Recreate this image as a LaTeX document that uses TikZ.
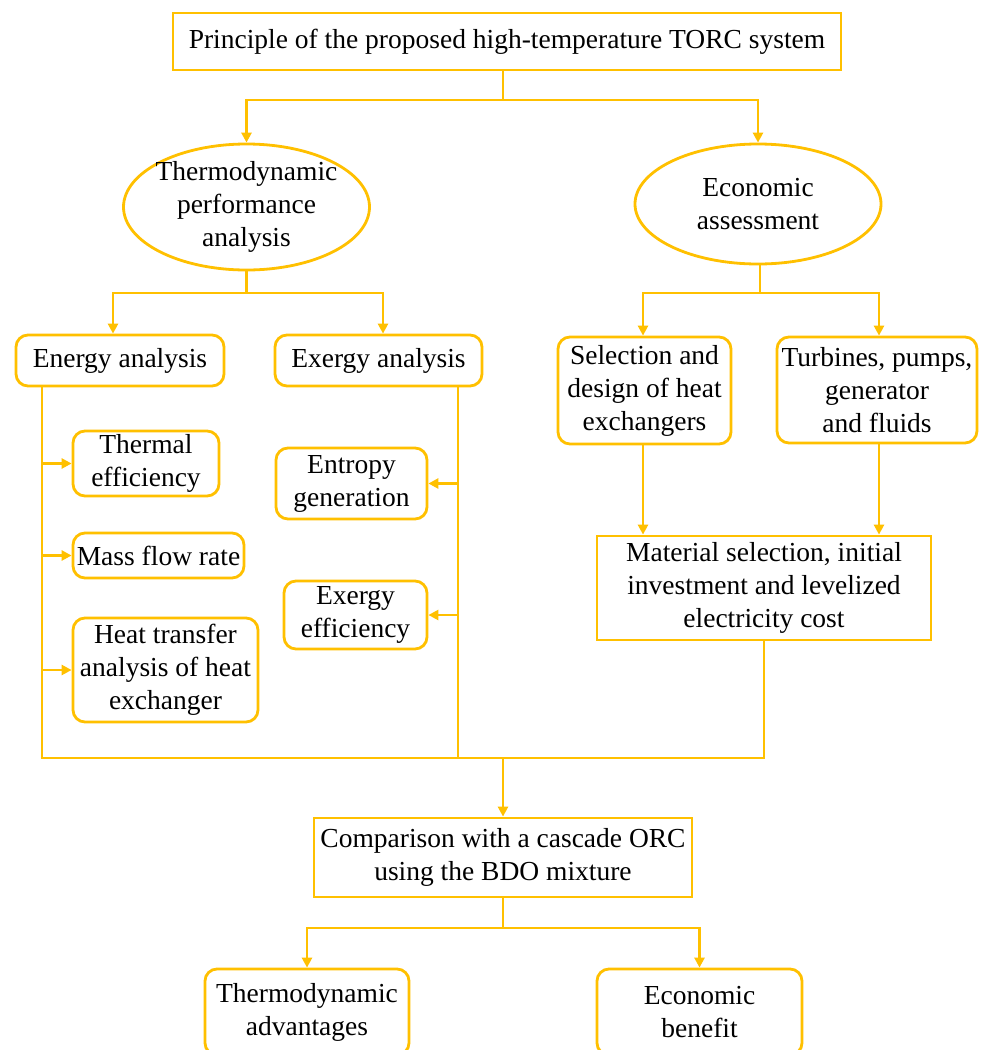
\documentclass[tikz,border=0pt]{standalone}
\usepackage{fontspec}
\setmainfont{Liberation Serif}
\usetikzlibrary{arrows.meta,shapes.geometric}
\definecolor{gold}{HTML}{FFC000}
\tikzset{
  base/.style={draw=gold, line width=2.8pt, align=center, inner sep=0pt, font=\fontsize{27.5}{33}\selectfont, text=black},
  sqbox/.style={base, rectangle},
  rbox/.style={base, rectangle, rounded corners=12pt},
  ell/.style={base, ellipse},
  conn/.style={draw=gold, line width=2.8pt},
  arr/.style={conn, -{Triangle[length=10pt,width=10pt]}},
}
\begin{document}
\begin{tikzpicture}[x=1pt,y=-1pt]
\useasboundingbox (0,0) rectangle (981,1050);
\clip (0,0) rectangle (981,1050);
\fill[white] (0,0) rectangle (981,1050);

% nodes
\node[sqbox, minimum width=668pt, minimum height=57pt] (top) at (507,41.5) {Principle of the proposed high-temperature TORC system};
\node[ell, inner xsep=-4.5pt, inner ysep=-6pt, minimum width=246pt, minimum height=126pt] (ellL) at (246.5,207) {Thermodynamic\\performance\\analysis};
\node[ell, minimum width=246pt, minimum height=120pt] (ellR) at (758,204) {Economic\\assessment};

\node[rbox, minimum width=208pt, minimum height=51pt] (energy) at (120,360.5) {Energy analysis};
\node[rbox, minimum width=207pt, minimum height=51pt] (exergy) at (378.5,360.5) {Exergy analysis};
\node[rbox, minimum width=173pt, minimum height=107pt] (selection) at (644.5,390.5) {Selection and\\design of heat\\exchangers};
\node[rbox, minimum width=200pt, minimum height=106pt] (turbines) at (877,390) {Turbines, pumps,\\generator\\and fluids};
\node[sqbox, minimum width=334pt, minimum height=104pt] (material) at (764,588) {Material selection, initial\\investment and levelized\\electricity cost};

\node[rbox, minimum width=146pt, minimum height=65pt] (thermal) at (146,463.5) {Thermal\\efficiency};
\node[rbox, minimum width=171pt, minimum height=45pt] (mass) at (158.5,555.5) {Mass flow rate};
\node[rbox, minimum width=185pt, minimum height=104pt] (heat) at (165.5,670) {Heat transfer\\analysis of heat\\exchanger};

\node[rbox, minimum width=151pt, minimum height=71pt] (entropy) at (351.5,483.5) {Entropy\\generation};
\node[rbox, minimum width=143pt, minimum height=68pt] (exeff) at (355.5,615) {Exergy\\efficiency};

\node[sqbox, minimum width=378pt, minimum height=79pt] (comparison) at (503,857.5) {Comparison with a cascade ORC\\using the BDO mixture};
\node[rbox, minimum width=204pt, minimum height=86pt] (adv) at (307,1012) {Thermodynamic\\advantages};
\node[rbox, minimum width=205pt, minimum height=86pt] (econ) at (699.5,1012) {Economic\\benefit};

% junctions
\coordinate (j1) at (503,100);
\coordinate (j2) at (246.5,293);
\coordinate (j3) at (760,293);
\coordinate (eL) at (42,758);
\coordinate (xR) at (458,758);
\coordinate (mR) at (764,758);
\coordinate (jb) at (503,758);
\coordinate (j4) at (503,928);

% connectors
\draw[conn] (top.south -| j1) -- (j1);
\draw[arr] (j1) -| (ellL.north);
\draw[arr] (j1) -| (ellR.north);

\draw[conn] (ellL.south) -- (j2);
\draw[arr] (j2) -| ([xshift=-7pt]energy.north);
\draw[arr] (j2) -| ([xshift=4.5pt]exergy.north);

\draw[conn] (ellR.south -| j3) -- (j3);
\draw[arr] (j3) -| ([xshift=-1.5pt]selection.north);
\draw[arr] (j3) -| ([xshift=2pt]turbines.north);

\draw[arr] ([xshift=-1.5pt]selection.south) -- ([xshift=-1.5pt]selection.south |- material.north);
\draw[arr] ([xshift=2pt]turbines.south) -- ([xshift=2pt]turbines.south |- material.north);

\draw[conn] (energy.south -| eL) -- (eL);
\draw[arr] (thermal.west -| eL) -- (thermal.west);
\draw[arr] (mass.west -| eL) -- (mass.west);
\draw[arr] (heat.west -| eL) -- (heat.west);

\draw[conn] (exergy.south -| xR) -- (xR);
\draw[arr] (entropy.east -| xR) -- (entropy.east);
\draw[arr] (exeff.east -| xR) -- (exeff.east);

\draw[conn] (material.south) -- (mR);
\draw[conn] ([xshift=-1.4pt]eL) -- ([xshift=1.4pt]mR);
\draw[arr] (jb) -- (comparison.north -| jb);

\draw[conn] (comparison.south -| j4) -- (j4);
\draw[arr] (j4) -| (adv.north);
\draw[arr] (j4) -| (econ.north);
\end{tikzpicture}
\end{document}
